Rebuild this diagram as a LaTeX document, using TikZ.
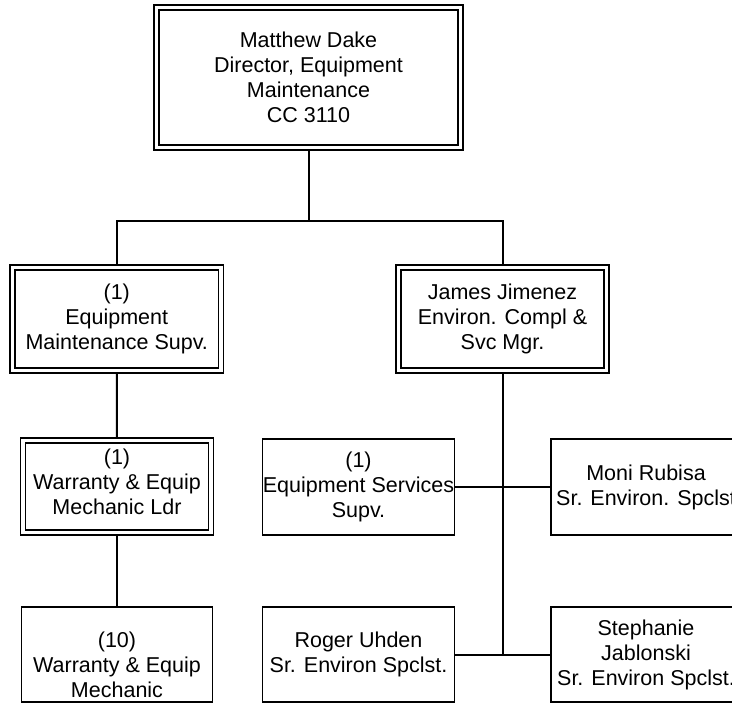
\documentclass[tikz,border=0pt]{standalone}
\usepackage{fontspec}
\setmainfont{Liberation Sans}
\begin{document}
\begin{tikzpicture}[x=1pt,y=-1pt,
  every node/.style={inner sep=0pt, align=center, font=\fontsize{21.5}{25}\selectfont},
  dbox/.style={draw, line width=1.4pt, double=white, double distance=3.4pt, outer sep=3.1pt},
  sbox/.style={draw, line width=1.6pt, outer sep=0.8pt},
  conn/.style={line width=2pt}]
\useasboundingbox (0,0) rectangle (732,703);
\clip (0,0) rectangle (732,703);
\fill[white] (0,0) rectangle (732,703);

\node[dbox, minimum width=303.9pt, minimum height=140pt] (top) at (308.5,77.5)
  {Matthew Dake\\Director, Equipment\\Maintenance\\CC 3110};
\node[dbox, minimum width=208.5pt, minimum height=103pt] (eqm) at (116.75,319)
  {(1)\\Equipment\\Maintenance Supv.};
\node[dbox, minimum width=208pt, minimum height=103pt] (jj) at (502.5,319)
  {James Jimenez\\Environ. Compl \&\\Svc Mgr.};
\node[dbox, minimum width=188pt, minimum height=92pt] (ldr) at (117,486.5)
  {(1)\\Warranty \& Equip\\Mechanic Ldr\rule[-10pt]{0pt}{0pt}};
\node[sbox, minimum width=191pt, minimum height=95pt] (mech) at (117,654.5)
  {\rule{0pt}{36pt}(10)\\Warranty \& Equip\\Mechanic};
\node[sbox, minimum width=192pt, minimum height=96pt] (es) at (358.5,487)
  {(1)\\Equipment Services\\Supv.};
\node[sbox, minimum width=190pt, minimum height=96pt] (moni) at (646,487)
  {Moni Rubisa\\Sr. Environ. Spclst};
\node[sbox, minimum width=192pt, minimum height=95pt] (rog) at (358.5,654.5)
  {Roger Uhden\\Sr. Environ Spclst.};
\node[sbox, minimum width=190pt, minimum height=95pt] (steph) at (646,654.5)
  {Stephanie\\Jablonski\\Sr. Environ Spclst.};

\coordinate (bus) at (309,221);
\draw[conn] (top.south) -- (top.south |- bus);
\draw[conn] (eqm.north) |- (bus) -| (jj.north);
\draw[conn] (eqm.south) -- (ldr.north);
\draw[conn] (ldr.south) -- (mech.north);
\draw[conn] (jj.south) -- (jj.south |- rog.east);
\draw[conn] (es.east) -- (moni.west);
\draw[conn] (rog.east) -- (steph.west);
\end{tikzpicture}
\end{document}
